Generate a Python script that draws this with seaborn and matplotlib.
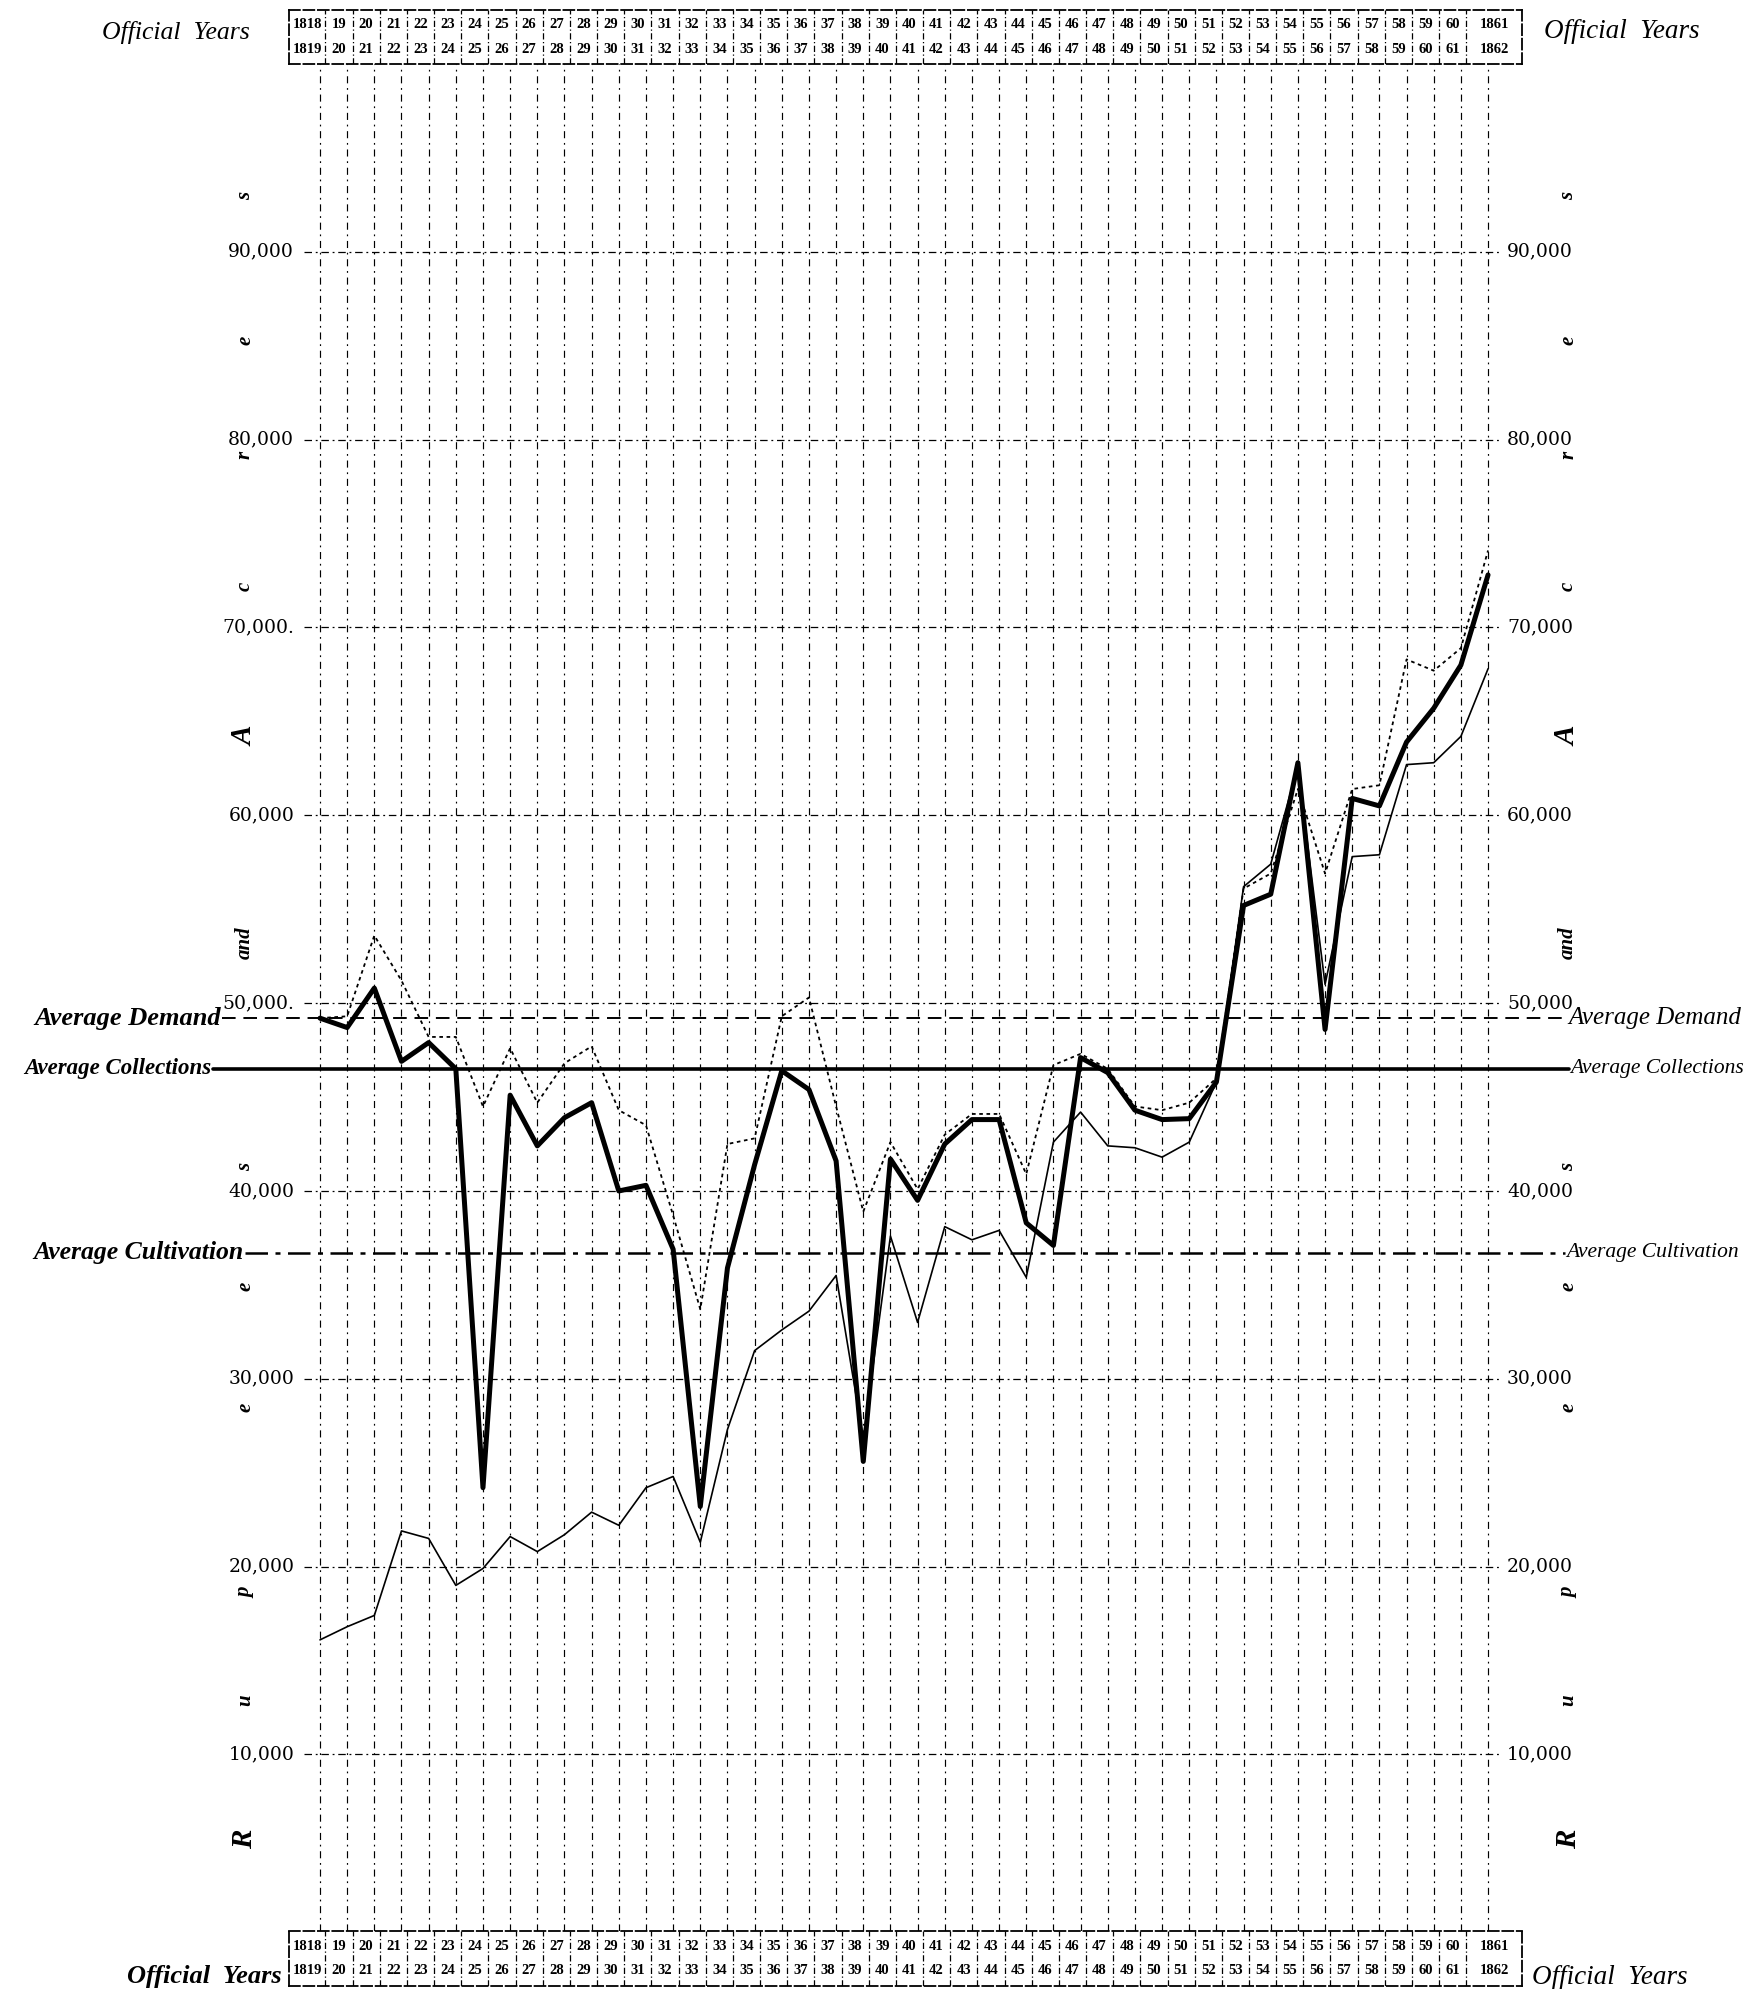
import numpy as np
import matplotlib
matplotlib.use("Agg")
import matplotlib.pyplot as plt
import seaborn as sns

# Official years (index 0 = 1818-19 ... 43 = 1861-62)
years_top = ["1818", "19", "20", "21", "22", "23", "24", "25", "26", "27", "28",
             "29", "30", "31", "32", "33", "34", "35", "36", "37", "38", "39",
             "40", "41", "42", "43", "44", "45", "46", "47", "48", "49", "50",
             "51", "52", "53", "54", "55", "56", "57", "58", "59", "60", "1861"]
years_bottom = ["1819", "20", "21", "22", "23", "24", "25", "26", "27", "28", "29",
                "30", "31", "32", "33", "34", "35", "36", "37", "38", "39", "40",
                "41", "42", "43", "44", "45", "46", "47", "48", "49", "50", "51",
                "52", "53", "54", "55", "56", "57", "58", "59", "60", "61", "1862"]

# Demand (dotted line)
demand = [49200, 49300, 53600, 51200, 48200, 48200, 44500, 47600, 44700, 46800,
          47700, 44300, 43500, 38700, 33700, 42500, 42800, 49300, 50300, 44500,
          38900, 42600, 40100, 43000, 44100, 44100, 40900, 46700, 47300, 46500,
          44500, 44300, 44700, 46000, 56100, 56900, 61400, 56900, 61400, 61600,
          68300, 67700, 68900, 74100]

# Collections (thick line)
collections = [49200, 48700, 50800, 46900, 47900, 46500, 24200, 45100, 42400, 43900,
               44700, 40000, 40300, 36900, 23200, 35900, 41400, 46400, 45400, 41600,
               25600, 41700, 39500, 42500, 43800, 43800, 38300, 37100, 47100, 46300,
               44300, 43800, 43850, 45800, 55200, 55800, 62800, 48600, 60900, 60500,
               63900, 65700, 68000, 72800]

# Cultivation (thin line)
cultivation = [16100, 16800, 17400, 21900, 21500, 19000, 19900, 21600, 20800, 21700,
               22900, 22200, 24200, 24800, 21300, 27300, 31500, 32600, 33600, 35500,
               26800, 37600, 33000, 38100, 37400, 37900, 35400, 42600, 44200, 42400,
               42300, 41800, 42600, 45800, 56200, 57400, 62600, 51000, 57800, 57900,
               62700, 62800, 64200, 67800]

avg_demand = 49200
avg_collections = 46500
avg_cultivation = 36700

grid_values = [10000, 20000, 30000, 40000, 50000, 60000, 70000, 80000, 90000]
left_labels = ["10,000", "20,000", "30,000", "40,000", "50,000.", "60,000",
               "70,000.", "80,000", "90,000"]
right_labels = ["10,000", "20,000", "30,000", "40,000", "50,000", "60,000",
                "70,000", "80,000", "90,000"]

caption_letters = ["R", "u", "p", "e", "e", "s", "and", "A", "c", "r", "e", "s"]
caption_values = [5500, 12900, 18600, 28500, 34900, 41300, 53200, 64200, 72200,
                  79200, 85300, 93000]

sns.set_theme(style="white")
plt.rcParams['font.family'] = ['Liberation Serif', 'DejaVu Serif']

W, H = 1752, 1989
fig = plt.figure(figsize=(W / 100, H / 100), dpi=100)
fig.patch.set_facecolor("white")

XL = (-1.141, 44.25)
ax_left, ax_w = 289 / W, 1233 / W
ax = fig.add_axes([ax_left, 1 - 1931 / H, ax_w, (1931 - 64) / H])
ax.set_xlim(*XL)
ax.set_ylim(600, 100000)
idx = np.arange(len(years_top))

# vertical year grid
ax.set_xticks(idx)
ax.set_yticks([])
ax.grid(axis="x", color="black", lw=0.85, linestyle=(0, (6, 4, 1.5, 4)))
ax.tick_params(length=0, labelbottom=False, labelleft=False)
for s in ax.spines.values():
    s.set_visible(False)

# horizontal value grid
ax.hlines(grid_values, -0.6, 43.4, color="black", lw=0.9,
          linestyles=[(0, (6, 3, 1.5, 3))])

# averages
for val, ls, lw, x0, x1 in [(avg_demand, (0, (7, 4)), 1.4, -0.054, 1.037),
                            (avg_collections, "-", 2.6, -0.062, 1.038),
                            (avg_cultivation, (0, (9, 3, 2, 3)), 1.8, -0.036, 1.035)]:
    ax.axhline(val, x0, x1, color="black", lw=lw, linestyle=ls, clip_on=False)

sns.lineplot(x=idx, y=cultivation, ax=ax, color="black", lw=1.2)
sns.lineplot(x=idx, y=demand, ax=ax, color="black", lw=1.3, linestyle=(0, (2, 2)))
sns.lineplot(x=idx, y=collections, ax=ax, color="black", lw=3.6)

# value labels
for v, t in zip(grid_values, left_labels):
    ax.text(-0.95, v, t, ha="right", va="center", fontsize=13.5,
            family="DejaVu Serif", color="black")
for v, t in zip(grid_values, right_labels):
    ax.text(43.7, v, t, ha="left", va="center", fontsize=13.5,
            family="DejaVu Serif", color="black")

# average labels
trans = ax.get_yaxis_transform()
lab_kw = dict(style="italic", fontweight="bold", color="black",
              va="center", transform=trans, clip_on=False)
ax.text(-0.055, avg_demand, "Average Demand", ha="right", fontsize=19, **lab_kw)
ax.text(-0.063, avg_collections, "Average Collections", ha="right", fontsize=16.5, **lab_kw)
ax.text(-0.037, avg_cultivation, "Average Cultivation", ha="right", fontsize=18.5, **lab_kw)
lab_kw["fontweight"] = "normal"
ax.text(1.038, avg_demand, "Average Demand", ha="left", fontsize=18, **lab_kw)
ax.text(1.039, avg_collections, "Average Collections", ha="left", fontsize=15.5, **lab_kw)
ax.text(1.036, avg_cultivation, "Average Cultivation", ha="left", fontsize=15.5, **lab_kw)

# vertical caption letters "Rupees and Acres" on both sides
for xpos in (-2.76, 45.95):
    for letter, v in zip(caption_letters, caption_values):
        size = 21 if letter in ("A", "R") else 15
        ax.text(xpos, v, letter, rotation=90, ha="center", va="center",
                fontsize=size, style="italic", fontweight="bold", color="black")


def draw_header(y_top_px, y_bot_px):
    hx = fig.add_axes([ax_left, 1 - y_bot_px / H, ax_w, (y_bot_px - y_top_px) / H])
    hx.set_xlim(*XL)
    hx.set_ylim(0, 2)
    hx.set_xticks([])
    hx.set_yticks([])
    hx.set_facecolor("none")
    for s in hx.spines.values():
        s.set_linewidth(1.3)
        s.set_linestyle((0, (6, 2)))
        s.set_color("black")
    hx.vlines(idx[:-1] + 0.2, 0, 2, color="black", lw=0.9,
              linestyles=[(0, (5, 2, 1, 2))])
    centers = idx - 0.3
    centers = np.where(idx == 0, -0.47, centers)
    centers = np.where(idx == idx[-1], 43.25, centers)
    for c, t, b in zip(centers, years_top, years_bottom):
        hx.text(c, 1.45, t, ha="center", va="center", fontsize=10.5,
                fontweight="bold", color="black")
        hx.text(c, 0.55, b, ha="center", va="center", fontsize=10.5,
                fontweight="bold", color="black")
    return hx


draw_header(10, 64)
draw_header(1931, 1986)

oy_kw = dict(style="italic", color="black", va="center")
fig.text(250 / W, 1 - 32 / H, "Official  Years", ha="right", fontsize=18.5, **oy_kw)
fig.text(1544 / W, 1 - 32 / H, "Official  Years", ha="left", fontsize=19.5, **oy_kw)
fig.text(282 / W, 1 - 1976 / H, "Official  Years", ha="right", fontsize=19,
         fontweight="bold", **oy_kw)
fig.text(1532 / W, 1 - 1978 / H, "Official  Years", ha="left", fontsize=19.5,
         **oy_kw)

fig.savefig("out.png", dpi=100, facecolor="white")
plt.close(fig)
